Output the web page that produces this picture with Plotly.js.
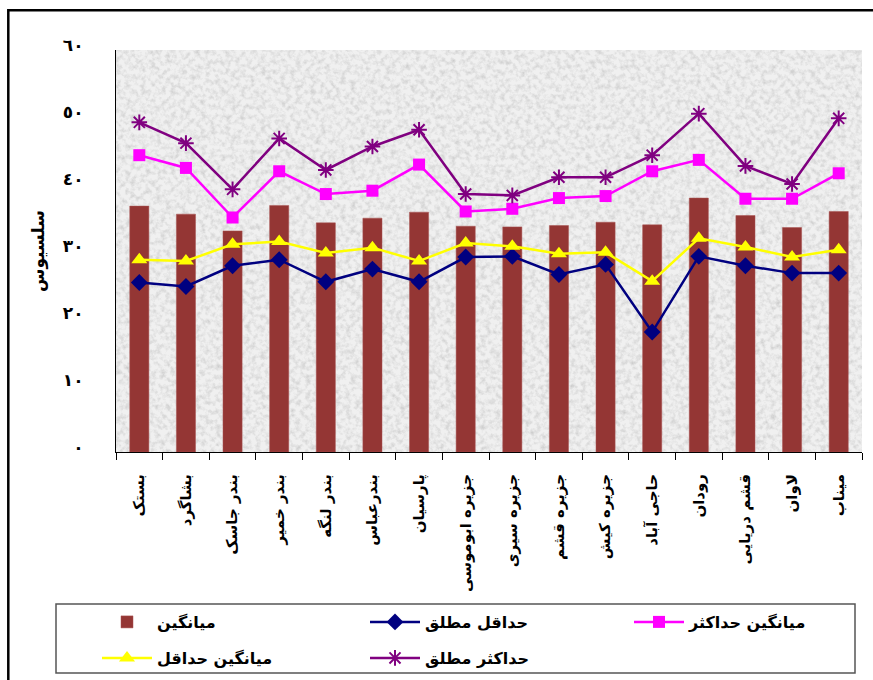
<!DOCTYPE html>
<html>
<head>
<meta charset="utf-8">
<script src="https://cdn.plot.ly/plotly-3.0.1.min.js"></script>
<style>html,body{margin:0;padding:0;background:#fff;}#chart{width:873px;height:680px;}</style>
</head>
<body>
<div id="chart"></div>
<script>
// ---- data ----
const stations = ["بستک","بشاگرد","بندر جاسک","بندر خمیر","بندر لنگه","بندرعباس","پارسیان","جزیره ابوموسی","جزیره سیری","جزیره قشم","جزیره کیش","حاجی آباد","رودان","قشم دریایی","لاوان","میناب"];
const meanTemp   = [36.7,35.5,33.0,36.8,34.2,34.9,35.8,33.7,33.6,33.8,34.3,33.9,37.9,35.3,33.5,35.9];
const absMin     = [25.3,24.7,27.8,28.7,25.4,27.3,25.4,29.1,29.2,26.5,28.0,17.9,29.2,27.8,26.7,26.7];
const meanMax    = [44.3,42.4,35.0,41.9,38.5,39.0,42.9,35.9,36.3,37.9,38.2,41.9,43.6,37.8,37.8,41.6];
const meanMin    = [28.7,28.5,31.0,31.4,29.7,30.5,28.5,31.2,30.7,29.6,29.8,25.5,31.9,30.6,29.1,30.2];
const absMax     = [49.2,46.1,39.2,46.8,42.1,45.6,48.1,38.5,38.3,41.0,41.0,44.3,50.5,42.7,40.0,49.8];
const yTickVals  = [0,10,20,30,40,50,60];
const yTickText  = ["٠","١٠","٢٠","٣٠","٤٠","٥٠","٦٠"];
const names = {mean:"میانگین", absMin:"حداقل مطلق", meanMax:"میانگین حداکثر", meanMin:"میانگین حداقل", absMax:"حداکثر مطلق"};
const yTitle = "سلسیوس";

// ---- chart ----
const FONT = "DejaVu Sans, Noto Sans, sans-serif";
const traces = [
  {type:"bar", x:stations, y:meanTemp, name:names.mean, legend:"legend",
   marker:{color:"#943634", line:{color:"#a85250", width:0.5}}},
  {type:"scatter", mode:"lines+markers", x:stations, y:absMin, name:names.absMin, legend:"legend2",
   line:{color:"#000080", width:2.5}, marker:{symbol:"diamond", size:13, color:"#000080"}},
  {type:"scatter", mode:"lines+markers", x:stations, y:meanMax, name:names.meanMax, legend:"legend3",
   line:{color:"#FF00FF", width:2.5}, marker:{symbol:"square", size:12, color:"#FF00FF"}},
  {type:"scatter", mode:"lines+markers", x:stations, y:meanMin, name:names.meanMin, legend:"legend4",
   line:{color:"#FFFF00", width:2.5}, marker:{symbol:"triangle-up", size:14, color:"#FFFF00"}},
  {type:"scatter", mode:"lines+markers", x:stations, y:absMax, name:names.absMax, legend:"legend5",
   line:{color:"#800080", width:2.5}, marker:{symbol:"asterisk-open", size:13, color:"#800080", line:{color:"#800080", width:2}}}
];

const W = 746, H = 402;
const svgTex = '<svg xmlns="http://www.w3.org/2000/svg" width="'+W+'" height="'+H+'" viewBox="0 0 '+W+' '+H+'">' +
  '<filter id="n" x="0" y="0" width="100%" height="100%"><feTurbulence type="fractalNoise" baseFrequency="0.2" numOctaves="3" seed="7"/>' +
  '<feColorMatrix type="matrix" values="0 0 0 0 0.45 0 0 0 0 0.45 0 0 0 0 0.45 1.1 0 0 0 -0.45"/></filter>' +
  '<rect width="'+W+'" height="'+H+'" fill="#f0f0f0"/><rect width="'+W+'" height="'+H+'" filter="url(#n)"/></svg>';
const texURI = "data:image/svg+xml;utf8," + encodeURIComponent(svgTex);

const px2x = p => (p - 116) / W;
const py2y = p => (452 - p) / H;

function leg(xpx, ypx) {
  return {orientation:"h", itemwidth:50, x:px2x(xpx), y:py2y(ypx),
    bgcolor:"rgba(0,0,0,0)", borderwidth:0, font:{family:FONT, size:16, color:"#000", weight:"bold"},
    xanchor:"left", yanchor:"middle"};
}

const layout = {
  width:873, height:680,
  margin:{l:116, r:11, t:50, b:228, autoexpand:false},
  paper_bgcolor:"#ffffff", plot_bgcolor:"#e8e8e8",
  font:{family:FONT, color:"#000"},
  bargap:0.59,
  showlegend:true,
  xaxis:{type:"category", range:[-0.5, stations.length - 0.5], showline:true, linecolor:"#000", linewidth:1,
    ticks:"outside", tickson:"boundaries", ticklen:7, tickcolor:"#000", tickwidth:1,
    tickangle:-90, tickfont:{family:FONT, size:15, color:"#000", weight:"bold"},
    ticklabelstandoff:15, showgrid:false, zeroline:false, fixedrange:true},
  yaxis:{range:[0,60], tickvals:yTickVals, ticktext:yTickText, showline:true, linecolor:"#000", linewidth:1,
    ticks:"", showgrid:false, zeroline:false, ticklabelstandoff:28, ticklabelshift:-5,
    tickfont:{family:FONT, size:17, color:"#000", weight:"bold"},
    title:{text:yTitle, font:{family:FONT, size:17, color:"#000", weight:"bold"}, standoff:13}},
  legend:leg(97, 622),
  legend2:leg(365, 622),
  legend3:leg(629, 622),
  legend4:leg(97, 658),
  legend5:leg(365, 658),
  images:[{source:texURI, xref:"paper", yref:"paper", x:0, y:1, sizex:1, sizey:1,
    xanchor:"left", yanchor:"top", sizing:"stretch", layer:"below"}],
  shapes:[
    {type:"rect", xref:"paper", yref:"paper", x0:px2x(56), x1:px2x(855), y0:py2y(673), y1:py2y(604),
     line:{color:"#555", width:1.5}, fillcolor:"#fff", layer:"below"},
    {type:"rect", xref:"paper", yref:"paper", x0:px2x(8.3), x1:px2x(890), y0:py2y(700), y1:py2y(10.3),
     line:{color:"#000", width:2.5}, fillcolor:"rgba(0,0,0,0)", layer:"above"}
  ]
};

Plotly.newPlot("chart", traces, layout, {displayModeBar:false, staticPlot:true});
</script>
</body>
</html>
